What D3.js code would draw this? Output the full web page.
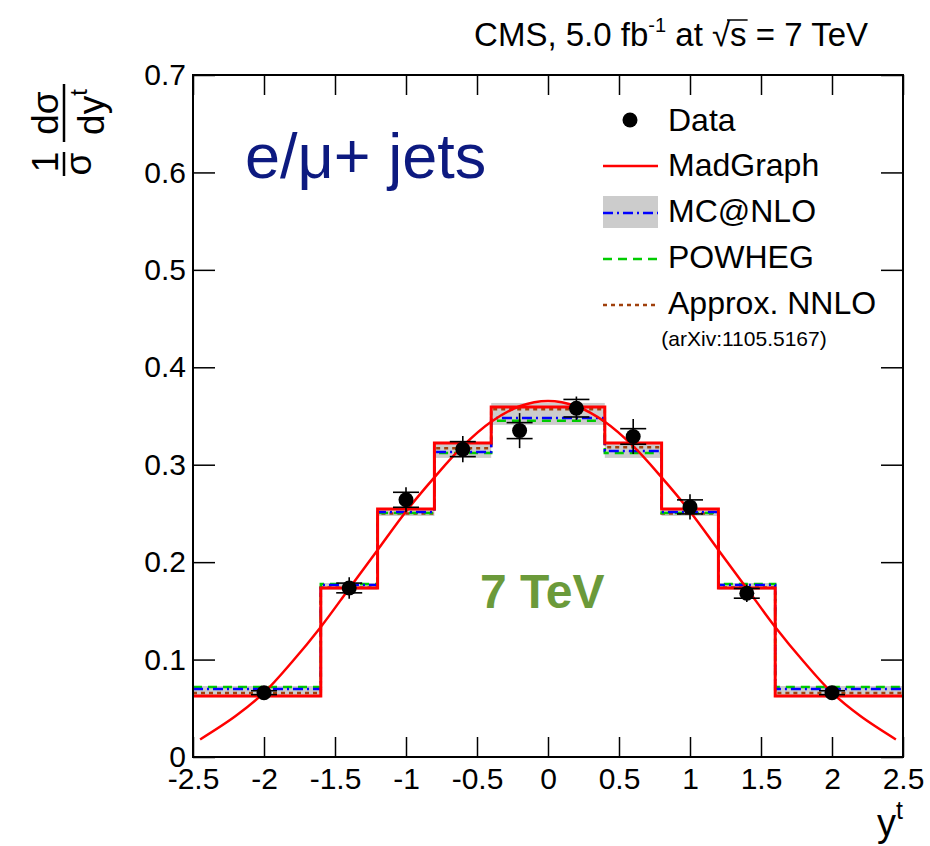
<!DOCTYPE html>
<html>
<head>
<meta charset="utf-8">
<script src="https://cdn.jsdelivr.net/npm/d3@7"></script>
<style>
  body { margin: 0; background: #fff; }
  svg { display: block; }
  text { font-family: "Liberation Sans", Arial, Helvetica, sans-serif; }
</style>
</head>
<body>
<div id="chart"></div>
<script>
// bin edges of the rapidity histogram
const binEdges = [-2.5, -1.6, -1.2, -0.8, -0.4, 0, 0.4, 0.8, 1.2, 1.6, 2.5]

// measured points
const dataX = [-2.0, -1.4, -1.0, -0.6, -0.2, 0.2, 0.6, 1.0, 1.4, 2.0]
const dataY = [0.066, 0.1735, 0.264, 0.316, 0.335, 0.358, 0.329, 0.2567, 0.168, 0.066]
const dataStat = [0.002, 0.005, 0.0077, 0.0077, 0.0082, 0.009, 0.008, 0.0072, 0.005, 0.002]
const dataTot = [0.004, 0.011, 0.0128, 0.0135, 0.018, 0.012, 0.018, 0.013, 0.009, 0.004]

// predictions per bin
const madgraph = [0.0626, 0.1735, 0.2545, 0.3224, 0.3593, 0.3593, 0.3224, 0.2545, 0.1735, 0.0626]
const mcatnlo = [0.0698, 0.1766, 0.2515, 0.3130, 0.3480, 0.3480, 0.3140, 0.2515, 0.1766, 0.0698]
const mcatnloLo = [0.0613, 0.1715, 0.2474, 0.3070, 0.3409, 0.3409, 0.3070, 0.2474, 0.1715, 0.0613]
const mcatnloHi = [0.0729, 0.1786, 0.2556, 0.3234, 0.3634, 0.3634, 0.3234, 0.2556, 0.1786, 0.0729]
const powheg = [0.0719, 0.1776, 0.2505, 0.3120, 0.3450, 0.3450, 0.3120, 0.2505, 0.1776, 0.0719]
const approxNNLO = [0.0657, 0.1740, 0.2500, 0.3170, 0.3570, 0.3570, 0.3180, 0.2500, 0.1740, 0.0657]

// smooth MadGraph curve
const curveX = [-2.45, -2.2, -2.0, -1.8, -1.6, -1.4, -1.2, -1.0, -0.8, -0.6, -0.4, -0.2, 0,
                0.2, 0.4, 0.6, 0.8, 1.0, 1.2, 1.4, 1.6, 1.8, 2.0, 2.2, 2.45]
const curveY = [0.018, 0.042, 0.066, 0.098, 0.1335, 0.173, 0.2125, 0.252, 0.287, 0.319, 0.344, 0.360, 0.3655,
                0.360, 0.344, 0.319, 0.287, 0.252, 0.2125, 0.173, 0.1335, 0.098, 0.066, 0.042, 0.018]

const xMajor = [-2.5, -2, -1.5, -1, -0.5, 0, 0.5, 1, 1.5, 2, 2.5]
const xMinor = d3.range(-25, 26).map((i) => i / 10)
const yMajor = [0, 0.1, 0.2, 0.3, 0.4, 0.5, 0.6, 0.7]
const yMinor = d3.range(0, 36).map((i) => i / 50)

const width = 930
const height = 846
const margin = { top: 75, right: 27, bottom: 89, left: 193 }

const svg = d3.select("#chart").append("svg")
  .attr("width", width)
  .attr("height", height)

const x = d3.scaleLinear().domain([-2.5, 2.5]).range([margin.left, width - margin.right])
const y = d3.scaleLinear().domain([0, 0.7]).range([height - margin.bottom, margin.top])

const bins = d3.range(binEdges.length - 1).map((i) => ({ x0: binEdges[i], x1: binEdges[i + 1], i }))

// grey MC@NLO uncertainty band
svg.append("g").selectAll("rect")
  .data(bins)
  .join("rect")
  .attr("x", (d) => x(d.x0))
  .attr("width", (d) => x(d.x1) - x(d.x0))
  .attr("y", (d) => y(mcatnloHi[d.i]))
  .attr("height", (d) => y(mcatnloLo[d.i]) - y(mcatnloHi[d.i]))
  .attr("fill", "#cccccc")

// step histograms
const stepLine = d3.line().x((d) => x(d[0])).y((d) => y(d[1])).curve(d3.curveStepAfter)
const stepPoints = (vals) => [...vals.map((v, i) => [binEdges[i], v]), [binEdges[binEdges.length - 1], vals[vals.length - 1]]]

const hists = [
  { vals: approxNNLO, color: "#a0400c", dash: "4,4", w: 2.5 },
  { vals: powheg, color: "#00cc00", dash: "9,6", w: 2.5 },
  { vals: mcatnlo, color: "#0000ff", dash: "10,4,2,4", w: 2.5 },
  { vals: madgraph, color: "#ff0000", dash: null, w: 3 },
]
hists.forEach((h) => {
  svg.append("path")
    .attr("d", stepLine(stepPoints(h.vals)))
    .attr("fill", "none")
    .attr("stroke", h.color)
    .attr("stroke-width", h.w)
    .attr("stroke-dasharray", h.dash)
})

// smooth curve
svg.append("path")
  .attr("d", d3.line().x((d) => x(d[0])).y((d) => y(d[1])).curve(d3.curveCatmullRom)(curveX.map((v, i) => [v, curveY[i]])))
  .attr("fill", "none")
  .attr("stroke", "#ff0000")
  .attr("stroke-width", 2.5)

// data points with stat caps and total error
const pts = svg.append("g").selectAll("g").data(dataX.map((v, i) => i)).join("g")
pts.append("line")
  .attr("x1", (i) => x(dataX[i])).attr("x2", (i) => x(dataX[i]))
  .attr("y1", (i) => y(dataY[i] - dataTot[i])).attr("y2", (i) => y(dataY[i] + dataTot[i]))
  .attr("stroke", "#000").attr("stroke-width", 1.6)
;[-1, 1].forEach((s) => {
  pts.append("line")
    .attr("x1", (i) => x(dataX[i]) - 13).attr("x2", (i) => x(dataX[i]) + 13)
    .attr("y1", (i) => y(dataY[i] + s * dataStat[i])).attr("y2", (i) => y(dataY[i] + s * dataStat[i]))
    .attr("stroke", "#000").attr("stroke-width", 1.6)
})
pts.append("circle")
  .attr("cx", (i) => x(dataX[i]))
  .attr("cy", (i) => y(dataY[i]))
  .attr("r", 7.5)
  .attr("fill", "#000")

// axes: ticks on all four sides, pointing inwards
const plotW = x.range()[1] - x.range()[0]
const plotH = y.range()[0] - y.range()[1]
const fmt = (d) => String(d)

const gxb = svg.append("g").attr("transform", `translate(0,${y(0)})`)
gxb.call(d3.axisBottom(x).tickValues(xMinor).tickSize(-10).tickFormat(""))
gxb.call(d3.axisBottom(x).tickValues(xMajor).tickSize(-20).tickPadding(11).tickFormat(fmt))
const gxt = svg.append("g").attr("transform", `translate(0,${y(0.7)})`)
gxt.call(d3.axisTop(x).tickValues(xMinor).tickSize(-10).tickFormat(""))
gxt.call(d3.axisTop(x).tickValues(xMajor).tickSize(-20).tickFormat(""))
const gyl = svg.append("g").attr("transform", `translate(${x(-2.5)},0)`)
gyl.call(d3.axisLeft(y).tickValues(yMinor).tickSize(-10).tickFormat(""))
gyl.call(d3.axisLeft(y).tickValues(yMajor).tickSize(-22).tickPadding(7).tickFormat(fmt))
const gyr = svg.append("g").attr("transform", `translate(${x(2.5)},0)`)
gyr.call(d3.axisRight(y).tickValues(yMinor).tickSize(-10).tickFormat(""))
gyr.call(d3.axisRight(y).tickValues(yMajor).tickSize(-22).tickFormat(""))

svg.selectAll(".domain").remove()
svg.selectAll(".tick line").attr("stroke", "#000").attr("stroke-width", 1.5)
svg.selectAll(".tick text").attr("font-size", 30).attr("fill", "#000")
  .style("font-family", '"Liberation Sans", Arial, sans-serif')

svg.append("rect")
  .attr("x", x(-2.5)).attr("y", y(0.7))
  .attr("width", plotW).attr("height", plotH)
  .attr("fill", "none").attr("stroke", "#000").attr("stroke-width", 2)

// x axis title
const xt = svg.append("text").attr("x", x(2.5)).attr("y", 836).attr("text-anchor", "end").attr("font-size", 38)
xt.append("tspan").text("y")
xt.append("tspan").attr("font-size", 25).attr("dy", -17).text("t")

// y axis title: 1/σ dσ/dy^t, rotated
const rot = (px, py) => `translate(${px},${py}) rotate(-90)`
svg.append("text").attr("transform", rot(58, 162)).attr("text-anchor", "middle").attr("font-size", 37).text("1")
svg.append("text").attr("transform", rot(91, 164)).attr("text-anchor", "middle").attr("font-size", 37).text("σ")
svg.append("line").attr("x1", 64).attr("x2", 64).attr("y1", 152).attr("y2", 176).attr("stroke", "#000").attr("stroke-width", 2.5)
svg.append("text").attr("transform", rot(58, 113)).attr("text-anchor", "middle").attr("font-size", 37).text("dσ")
const dy = svg.append("text").attr("transform", rot(104, 112)).attr("text-anchor", "middle").attr("font-size", 37)
dy.append("tspan").text("dy")
dy.append("tspan").attr("font-size", 24).attr("dy", -17).text("t")
svg.append("line").attr("x1", 64).attr("x2", 64).attr("y1", 84).attr("y2", 142).attr("stroke", "#000").attr("stroke-width", 2.5)

// header
const head = svg.append("text").attr("x", 868).attr("y", 46).attr("text-anchor", "end").attr("font-size", 33)
head.append("tspan").text("CMS, 5.0 fb")
head.append("tspan").attr("font-size", 20).attr("dy", -14).text("-1")
head.append("tspan").attr("dy", 14).text(" at \u221As = 7 TeV")
{
  const node = head.node()
  const full = node.textContent
  const k = full.indexOf("\u221A") + 1
  const s0 = node.getStartPositionOfChar(k)
  const s1 = node.getEndPositionOfChar(k)
  const sq = node.getStartPositionOfChar(k - 1)
  svg.append("path")
    .attr("d", `M${sq.x + 15},${s0.y - 26} H${s1.x + 1}`)
    .attr("stroke", "#000").attr("stroke-width", 1.5)
}

// labels inside the frame
svg.append("text").attr("x", 245).attr("y", 178).attr("font-size", 63).attr("fill", "#0d1a80").text("e/μ+ jets")
svg.append("text").attr("x", 480).attr("y", 608).attr("font-size", 48).attr("font-weight", "bold").attr("fill", "#6b9a3a").text("7 TeV")

// legend
const legend = svg.append("g")
const lx0 = 603, lx1 = 658, tx = 668
legend.append("circle").attr("cx", 630).attr("cy", 120).attr("r", 7.5).attr("fill", "#000")
legend.append("line").attr("x1", lx0).attr("x2", lx1).attr("y1", 166).attr("y2", 166).attr("stroke", "#ff0000").attr("stroke-width", 2.5)
legend.append("rect").attr("x", lx0).attr("y", 196).attr("width", lx1 - lx0).attr("height", 32).attr("fill", "#cccccc")
legend.append("line").attr("x1", lx0).attr("x2", lx1).attr("y1", 213).attr("y2", 213).attr("stroke", "#0000ff").attr("stroke-width", 2.5).attr("stroke-dasharray", "10,4,2,4")
legend.append("line").attr("x1", lx0).attr("x2", lx1).attr("y1", 259).attr("y2", 259).attr("stroke", "#00cc00").attr("stroke-width", 2.5).attr("stroke-dasharray", "9,6")
legend.append("line").attr("x1", lx0).attr("x2", lx1).attr("y1", 305).attr("y2", 305).attr("stroke", "#a0400c").attr("stroke-width", 2.5).attr("stroke-dasharray", "4,4")
const legendNames = ["Data", "MadGraph", "MC@NLO", "POWHEG", "Approx. NNLO"]
const legendBase = [131, 176, 222, 268, 314]
legendNames.forEach((name, i) => {
  legend.append("text").attr("x", tx).attr("y", legendBase[i]).attr("font-size", 32).text(name)
})
legend.append("text").attr("x", 744).attr("y", 346).attr("text-anchor", "middle").attr("font-size", 21).text("(arXiv:1105.5167)")
</script>
</body>
</html>
